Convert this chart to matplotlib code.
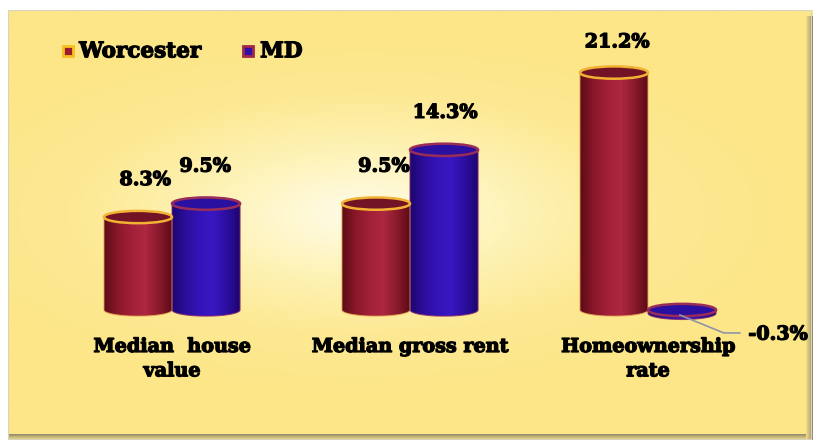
import numpy as np
import matplotlib
matplotlib.use('Agg')
import matplotlib.pyplot as plt
import matplotlib.patheffects as pe
from matplotlib.patches import Ellipse, Rectangle, PathPatch
from matplotlib.path import Path
from matplotlib.colors import LinearSegmentedColormap

# chart data
categories = ['Median  house\nvalue', 'Median gross rent', 'Homeownership\nrate']
series = ['Worcester', 'MD']
worcester = [8.3, 9.5, 21.2]
md = [9.5, 14.3, -0.3]
value_labels = [['8.3%', '9.5%', '21.2%'], ['9.5%', '14.3%', '-0.3%']]

plt.rcParams['font.family'] = ['DejaVu Serif']
plt.rcParams['font.weight'] = 'bold'
heavy = [pe.withStroke(linewidth=0.9, foreground='black')]

fig = plt.figure(figsize=(8.22, 4.44), dpi=100)

# background panel with soft radial gradient and a bevelled frame
bg = fig.add_axes([8/822, 4/444, 804/822, 430/444])
yy, xx = np.mgrid[-1:1:200j, -1:1:300j]
r = np.sqrt((xx + 0.12) ** 2 + ((yy + 0.05) * 1.3) ** 2)
bg_cmap = LinearSegmentedColormap.from_list('bg', ['#fffcea', '#fef3b8', '#fde993', '#fce688'])
bg.imshow(r, cmap=bg_cmap, aspect='auto', extent=[0, 1, 0, 1], vmin=0, vmax=1.1)
bg.set_xlim(0, 1)
bg.set_ylim(0, 1)
bg.axis('off')
edge_cmap = LinearSegmentedColormap.from_list('edge', ['#f4dc88', '#c8b878', '#8e8670'])
g = np.linspace(0, 1, 50).reshape(1, -1)
bg.imshow(g, cmap=edge_cmap, aspect='auto', extent=[0.992, 1.0, 0.0, 0.985], zorder=3)
bg.imshow(g.T[::-1], cmap=edge_cmap, aspect='auto', extent=[0.0, 0.992, 0.0, 0.012], zorder=3)
bg.add_patch(Rectangle((0, 0), 1, 1, fill=False, ec='#d8d2c2', lw=1.5, transform=bg.transAxes, zorder=4))

# main axes, mapped so the groups sit where the reference has them
ax = fig.add_axes([0, 0, 1, 1])
ax.patch.set_alpha(0)
ax.set_xlim(-172/238, (822-172)/238)
ax.set_ylim(-134/11.2, 310/11.2)
ax.axis('off')

bw = 0.286
eh = 1.1

red_cmap = LinearSegmentedColormap.from_list('red', ['#5e0c18', '#8a182a', '#a2203a', '#ad2840', '#8a1a2c', '#5a0a16'])
blue_cmap = LinearSegmentedColormap.from_list('blue', ['#1c0670', '#2c0e9c', '#3414b8', '#3818c2', '#2c0ea0', '#1c066e'])


def cylinder(x0, v, cmap, top_face, top_edge, body_edge):
    x1 = x0 + bw
    lo, hi = min(0, v), max(0, v)
    t = np.linspace(np.pi, 2 * np.pi, 40)
    bx = x0 + bw / 2 + bw / 2 * np.cos(t)
    by = lo + eh / 2 * np.sin(t)
    verts = [(x0, hi)] + list(zip(bx, by)) + [(x1, hi), (x0, hi)]
    codes = [Path.MOVETO] + [Path.LINETO] * (len(verts) - 2) + [Path.CLOSEPOLY]
    body = PathPatch(Path(verts, codes), fc='none', ec=body_edge, lw=0.8, alpha=0.8, zorder=3)
    ax.add_patch(body)
    grad = np.linspace(0, 1, 100).reshape(1, -1)
    im = ax.imshow(grad, cmap=cmap, aspect='auto', extent=[x0, x1, lo - eh / 2, hi], zorder=2)
    im.set_clip_path(body)
    ax.add_patch(Ellipse((x0 + bw / 2, hi), bw, eh, fc=top_face, ec=top_edge, lw=1.8, zorder=4))


for i in range(len(categories)):
    cylinder(i - bw, worcester[i], red_cmap, '#721426', '#f2b233', '#e8a850')
    cylinder(i, md[i], blue_cmap, '#2a10a0', '#9a2c58', '#8a2a6a')

lab = dict(fontsize=13.8, fontweight='bold', color='black', ha='center', va='center', path_effects=heavy)
# value labels
ax.text(-0.113, 11.6, value_labels[0][0], **lab)
ax.text(0.139, 12.8, value_labels[1][0], **lab)
ax.text(0.89, 12.8, value_labels[0][1], **lab)
ax.text(1.147, 17.6, value_labels[1][1], **lab)
ax.text(1.87, 23.9, value_labels[0][2], **lab)
ax.text(2.546, -2.2, value_labels[1][2], **lab)
ax.plot([2.134, 2.319, 2.386], [-0.45, -2.05, -2.05], color='#8c96a8', lw=1.2, zorder=5)

# category labels
for i, c in enumerate(categories):
    ax.text(i, -2.5, c, fontsize=13.8, fontweight='bold', ha='center', va='top', linespacing=1.45,
            path_effects=heavy)

# legend
ax.add_patch(Rectangle((-0.46, 22.65), 0.042, 0.95, fc='#9b1b30', ec='#f5c020', lw=2, zorder=5))
ax.text(-0.39, 23.1, series[0], fontsize=15.5, fontweight='bold', va='center', path_effects=heavy)
ax.add_patch(Rectangle((0.30, 22.65), 0.042, 0.95, fc='#2e10a8', ec='#a02848', lw=2, zorder=5))
ax.text(0.37, 23.1, series[1], fontsize=15.5, fontweight='bold', va='center', path_effects=heavy)

fig.savefig('out.png', dpi=100)
